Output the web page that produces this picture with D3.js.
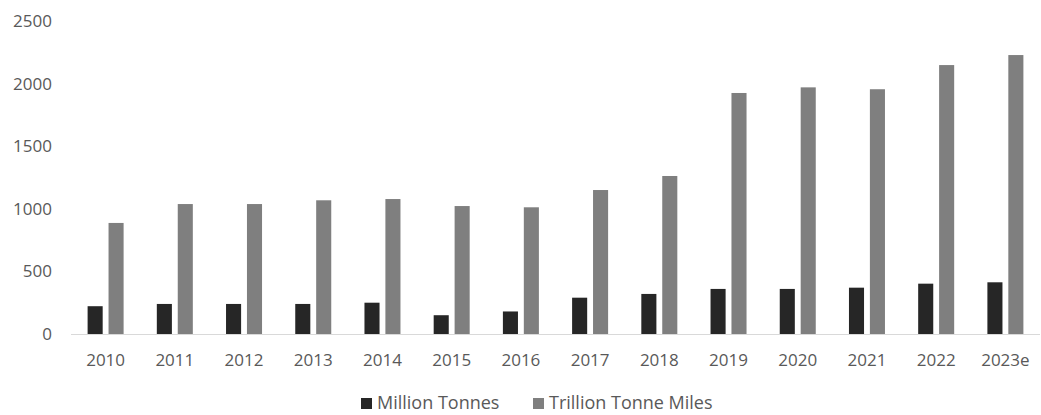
<!DOCTYPE html>
<html>
<head>
<meta charset="utf-8">
<script src="https://cdn.jsdelivr.net/npm/d3@7"></script>
<style>
  body { margin: 0; background: #fff; }
  text { font-family: "Open Sans", sans-serif; fill: #595959; }
</style>
</head>
<body>
<svg id="chart" width="1041" height="415"></svg>
<script>
const years = ["2010", "2011", "2012", "2013", "2014", "2015", "2016", "2017", "2018", "2019", "2020", "2021", "2022", "2023e"];
const millionTonnes = [222, 240, 240, 240, 250, 150, 180, 290, 320, 360, 360, 370, 402, 413];
const trillionTonneMiles = [887, 1038, 1038, 1068, 1078, 1022, 1012, 1150, 1262, 1925, 1970, 1955, 2148, 2228];
const yTicks = [0, 500, 1000, 1500, 2000, 2500];
const seriesNames = ["Million Tonnes", "Trillion Tonne Miles"];
const colors = ["#262626", "#7f7f7f"];

const svg = d3.select("#chart");
const plot = { left: 71, right: 1040, top: 21, bottom: 334 };

const x = d3.scaleBand().domain(years).range([plot.left, plot.right]);
const inner = d3.scaleBand().domain([0, 1]).range([0, 36]).paddingInner(0.28);
const y = d3.scaleLinear().domain([0, 2500]).range([plot.bottom, plot.top]);

// y labels
svg.append("g")
  .selectAll("text")
  .data(yTicks)
  .join("text")
  .attr("x", 52)
  .attr("y", d => y(d))
  .attr("dy", "0.35em")
  .attr("text-anchor", "end")
  .attr("font-size", 17)
  .text(d => d);

const series = [millionTonnes, trillionTonneMiles];
svg.append("g")
  .selectAll("g")
  .data(series)
  .join("g")
  .attr("fill", (d, i) => colors[i])
  .each(function (vals, si) {
    d3.select(this)
      .selectAll("rect")
      .data(vals)
      .join("rect")
      .attr("x", (d, i) => x(years[i]) + (x.bandwidth() - 36) / 2 + inner(si))
      .attr("width", inner.bandwidth())
      .attr("y", d => y(d))
      .attr("height", d => y(0) - y(d));
  });

// baseline
svg.append("line")
  .attr("x1", plot.left).attr("x2", plot.right)
  .attr("y1", plot.bottom + 0.5).attr("y2", plot.bottom + 0.5)
  .attr("stroke", "#d9d9d9");

// x labels
svg.append("g")
  .selectAll("text")
  .data(years)
  .join("text")
  .attr("x", d => x(d) + x.bandwidth() / 2)
  .attr("y", 360)
  .attr("dy", "0.35em")
  .attr("text-anchor", "middle")
  .attr("font-size", 17)
  .text(d => d);

// legend
const legend = svg.append("g");
const lx = [361, 533];
seriesNames.forEach((name, i) => {
  legend.append("rect")
    .attr("x", lx[i]).attr("y", 398)
    .attr("width", 11).attr("height", 11)
    .attr("fill", colors[i]);
  legend.append("text")
    .attr("x", lx[i] + 16).attr("y", 403)
    .attr("dy", "0.35em")
    .attr("font-size", 18)
    .text(name);
});
</script>
</body>
</html>
